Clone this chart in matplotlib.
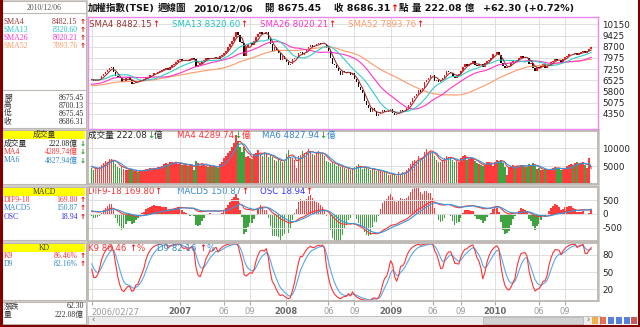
import numpy as np
import pandas as pd
import matplotlib
matplotlib.use("Agg")
import matplotlib.pyplot as plt
from matplotlib.patches import Rectangle

W, H = 640, 327
SANS = ["DejaVu Sans", "Noto Sans CJK TC"]
SERIF = ["Liberation Serif", "Noto Sans CJK TC"]

# ---- data (weekly TAIEX, weeks start on Monday) ----
start = "2006-02-27"

# 52 weeks before the first shown week, only used to warm up the averages
close_2005 = [6120, 6100, 6050, 6000, 6030, 6050, 5900, 5700, 5800, 5850,
              5900, 5950, 6000, 6050, 6100, 6150, 6200, 6230, 6300, 6350,
              6300, 6400, 6350, 6250, 6150, 6100, 6050, 6100, 6150, 6100,
              6050, 6000, 5900, 5800, 5650, 5800, 5950, 6050, 6150, 6200,
              6350, 6450, 6500, 6550, 6600, 6700, 6550, 6450, 6650, 6550,
              6600, 6580]

close = [6560, 6480, 6530, 6560, 6620, 6800, 6920, 7060, 7170, 7330,
         7400, 7050, 6780, 6730, 6650, 6390, 6500, 6700, 6720, 6550,
         6280, 6380, 6480, 6420, 6530, 6560, 6610, 6700, 6720, 6850,
         6880, 6980, 7000, 7060, 7140, 7180, 7260, 7300, 7200, 7390,
         7500, 7560, 7700, 7820, 7880, 7750, 7780, 7860, 7800, 7880,
         7960, 7900, 7400, 7500, 7600, 7780, 7860, 7950, 7920, 7980,
         7890, 8000, 7990, 7930, 8100, 8150, 8300, 8450, 8650, 8880,
         9100, 9300, 9650, 9450, 9000, 8950, 8100, 8700, 8900, 8950,
         8800, 9050, 9300, 9500, 9650, 9550, 9500, 9650, 9200, 8900,
         8450, 8650, 8500, 8300, 7850, 8100, 7900, 7700, 7500, 7600,
         7900, 7950, 8000, 8300, 8350, 8150, 8300, 8500, 8700, 8800,
         8700, 8750, 8850, 8950, 8900, 8950, 8900, 8600, 8450, 8000,
         7600, 7500, 7350, 7150, 6900, 7100, 7050, 7000, 7050, 6850,
         7000, 6600, 6400, 6100, 5900, 5700, 5200, 4900, 4700, 4450,
         4700, 4550, 4200, 4350, 4500, 4600, 4500, 4450, 4590, 4650,
         4430, 4250, 4320, 4500, 4620, 4500, 4560, 4700, 4900, 5150,
         5350, 5500, 5650, 5900, 5800, 6000, 6400, 6550, 6700, 6900,
         6850, 6500, 6550, 6400, 6550, 6700, 6900, 7100, 7050, 7000,
         6800, 6700, 6900, 6950, 7150, 7400, 7550, 7480, 7600, 7650,
         7750, 7500, 7450, 7600, 7550, 7400, 7650, 7800, 7850, 8000,
         8200, 8250, 8350, 8150, 7650, 7450, 7300, 7400, 7450, 7650,
         7800, 7750, 7850, 7950, 8100, 8000, 8000, 7950, 7600, 7650,
         7300, 7150, 7400, 7350, 7450, 7550, 7330, 7460, 7600, 7700,
         7780, 7900, 7830, 7820, 7700, 7920, 8050, 8100, 8230, 8240,
         8230, 8260, 8150, 8290, 8350, 8450, 8300, 8400, 8540, 8686.31]

vol_2005 = [5200, 4800, 5400, 5000, 4600]

# weekly turnover, 億
volume = [4500, 4000, 4200, 4300, 4600, 5200, 5800, 6300, 6000, 6900,
          7000, 6500, 5500, 4800, 4500, 5000, 4200, 4000, 3800, 3900,
          4100, 3700, 3500, 3400, 3800, 3600, 3900, 4200, 4100, 4500,
          4000, 4400, 4300, 4600, 4800, 5000, 5600, 5800, 5200, 6000,
          6200, 5900, 6100, 5500, 5800, 5400, 5200, 5600, 5000, 5500,
          5300, 3800, 6500, 5800, 5100, 5400, 5600, 5000, 4800, 5200,
          4600, 5000, 4700, 4400, 5500, 6000, 7200, 7800, 8500, 9200,
          10400, 11300, 13600, 12000, 10400, 9000, 10200, 7600, 7800, 7300,
          7000, 8200, 8600, 9400, 8200, 7800, 9000, 8500, 7600, 8000,
          7400, 6800, 6500, 7000, 6400, 6000, 6700, 8200, 9400, 7500,
          7200, 6800, 4500, 7800, 8000, 9300, 8500, 8800, 9700, 9000,
          8400, 8000, 8800, 9100, 8600, 8200, 7900, 6500, 6200, 5800,
          6000, 5500, 5000, 5200, 4800, 4600, 4400, 4300, 4200, 4000,
          4100, 4600, 4900, 5500, 4500, 4200, 4800, 4500, 4200, 3800,
          4400, 3900, 3600, 3800, 3500, 3400, 3200, 3000, 2600, 2500,
          3000, 2400, 2200, 3200, 2800, 3300, 3000, 3800, 4500, 5600,
          6300, 6800, 6500, 7800, 7000, 7500, 9000, 9800, 8800, 9200,
          8500, 7800, 6800, 6000, 6200, 6800, 7200, 7800, 7500, 7000,
          6800, 6000, 6500, 6200, 7200, 7800, 8000, 6800, 6900, 7200,
          7000, 6400, 5800, 5600, 5200, 5000, 5400, 6200, 6000, 5800,
          5000, 6200, 6600, 6400, 6800, 5800, 4800, 2500, 4600, 5000,
          5200, 4800, 5000, 4900, 5400, 5200, 4800, 4700, 5600, 5200,
          5800, 5000, 4200, 4400, 4000, 3900, 4100, 3800, 4000, 4300,
          4500, 4700, 4400, 4200, 3800, 4000, 4500, 4900, 5200, 5600,
          5100, 5800, 6000, 5500, 5800, 6008.6, 5300, 4436.88, 7200, 222.08]

price_ticks = [4350, 5075, 5800, 6525, 7250, 7975, 8700, 9425, 10150]
vol_ticks = [5000, 10000]
macd_ticks = [-500, 0, 500]
kd_ticks = [20, 50, 80]

sma_info = [("SMA4", "8482.15", "#993333"), ("SMA13", "8320.60", "#22c4c4"),
            ("SMA26", "8020.21", "#ff33cc"), ("SMA52", "7893.76", "#ff9966")]
ohlc_info = [("開", "8675.45"), ("高", "8700.13"), ("低", "8675.45"), ("收", "8686.31")]
vol_info = [("成交量", "222.08億", "#222222"), ("MA4", "4289.74億", "#ff3333"),
            ("MA6", "4827.94億", "#3388cc")]
macd_info = [("DIF9-18", "169.80", "#ff3333"), ("MACD5", "150.87", "#3388cc"),
             ("OSC", "18.94", "#3333ff")]
kd_info = [("K9", "86.46%", "#ff3333"), ("D9", "82.16%", "#3388cc")]

# ---- indicators ----
pre = len(close_2005)
allc = pd.Series(close_2005 + close, dtype=float)
opens = allc.shift(1).bfill().values[pre:]
c = allc.values[pre:]
n = len(c)
x = np.arange(n)
sma = {w: allc.rolling(w, min_periods=1).mean().values[pre:] for w in (4, 13, 26, 52)}

allv = pd.Series(vol_2005 + volume, dtype=float)
v = allv.values[len(vol_2005):]
vma4 = allv.rolling(4, min_periods=1).mean().values[len(vol_2005):]
vma6 = allv.rolling(6, min_periods=1).mean().values[len(vol_2005):]

dif_all = allc.ewm(span=9, adjust=False).mean() - allc.ewm(span=18, adjust=False).mean()
sig_all = dif_all.ewm(span=5, adjust=False).mean()
dif = dif_all.values[pre:]
sig = sig_all.values[pre:]
osc = dif - sig

lo9 = allc.rolling(9, min_periods=1).min()
hi9 = allc.rolling(9, min_periods=1).max()
rsv = ((allc - lo9) / (hi9 - lo9).replace(0, np.nan) * 100).fillna(50).values
kk, dd = [], []
k = d = 50.0
for r in rsv:
    k = k * 2 / 3 + r / 3
    d = d * 2 / 3 + k / 3
    kk.append(k)
    dd.append(d)
K = np.array(kk)[pre:]
D = np.array(dd)[pre:]

up = c >= opens
dates = pd.date_range(start, periods=n, freq="W-MON")
tick_x, tick_lab, tick_col, tick_w = [0], [dates[0].strftime("%Y/%m/%d")], ["#9a9a9a"], ["normal"]
for i in range(1, n):
    if dates[i].month != dates[i - 1].month:
        if dates[i].month == 1:
            tick_x.append(i); tick_lab.append(str(dates[i].year))
            tick_col.append("#6a6a6a"); tick_w.append("bold")
        elif dates[i].month in (6, 9) and dates[i].year > 2006:
            tick_x.append(i); tick_lab.append("%02d" % dates[i].month)
            tick_col.append("#9a9a9a"); tick_w.append("normal")

# ---- figure ----
fig = plt.figure(figsize=(W / 100, H / 100), dpi=100)
fig.patch.set_facecolor("white")


def box(x0, y0, x1, y1):
    return [x0 / W, 1 - y1 / H, (x1 - x0) / W, (y1 - y0) / H]


GRAY = "#d4d0cc"
EDGE = "#bdb8b3"
bg = fig.add_axes([0, 0, 1, 1])
bg.set_xlim(0, W); bg.set_ylim(H, 0); bg.axis("off")
bg.add_patch(Rectangle((0, 0), 88, H, fc=GRAY, ec="none"))
bg.add_patch(Rectangle((86, 129), 514, 173, fc=GRAY, ec="none"))
for (y0, y1, hdr) in [(1, 128, False), (130, 184, True), (187, 240, True), (243, 300, True), (302, 324, False)]:
    bg.add_patch(Rectangle((2, y0), 84, y1 - y0, fc="white", ec=EDGE, lw=0.8))
    if hdr:
        bg.add_patch(Rectangle((3, y0 + 1), 82, 7.5, fc="#ffff00", ec="none"))
bg.plot([2, 86], [13, 13], color=EDGE, lw=0.8)
bg.plot([2, 86], [90, 90], color=EDGE, lw=0.8)
# scrollbar
bg.add_patch(Rectangle((88, 316), 512, 9, fc="#ececec", ec="#b8b8b8", lw=0.6))
bg.add_patch(Rectangle((483, 317), 100, 7, fc="#d2d2d2", ec="#b0b0b0", lw=0.5))
for xi, col in zip([592, 600, 608, 616, 624, 631], ["#f0a020", "#e05030", "#3060d0", "#3060d0", "#3060d0", "#c03030"]):
    bg.add_patch(Rectangle((xi, 317), 6, 7, fc=col, ec="none", alpha=0.8))

XL, XR = 88, 598
xlim = ((XL - 91.7) / 2.006, (XR - 91.7) / 2.006)


def right_ticks(ax, ticks):
    ax.yaxis.tick_right()
    ax.set_yticks(ticks)
    ax.set_yticklabels([str(t) for t in ticks])
    ax.tick_params(axis="y", length=0, pad=3, labelsize=6.3, labelcolor="#222222")


def panel(y0, y1, ylim, ticks, spine):
    ax = fig.add_axes(box(XL, y0, XR, y1))
    ax.set_facecolor("white")
    ax.set_xlim(*xlim)
    ax.set_ylim(*ylim)
    right_ticks(ax, ticks)
    ax.set_xticks(tick_x)
    ax.tick_params(axis="x", length=0, labelbottom=False)
    ax.grid(True, color="#dedede", lw=0.7)
    ax.set_axisbelow(True)
    for s in ax.spines.values():
        s.set_color(spine)
        s.set_linewidth(1.0 if spine == "#ee88ee" else 1.3)
    return ax


ppx = 725 / 11.2
ax_p = panel(17, 129, (10150 - (129 - 24.3) * ppx, 10150 + (24.3 - 17) * ppx), price_ticks, "#ee88ee")
ax_v = panel(131, 184, (0, (184 - 131) / 18 * 5000), vol_ticks, EDGE)
ax_m = panel(187, 241, (-(241 - 214) / 13.8 * 500, (214 - 187) / 13.8 * 500), macd_ticks, EDGE)
ax_k = panel(243, 301, (50 - (301 - 272) / 17.3 * 30, 50 + (272 - 243) / 17.3 * 30), kd_ticks, EDGE)

# price
lo = np.minimum(opens, c)
hi = np.maximum(opens, c)
ax_p.bar(x, np.maximum(hi - lo, 20), bottom=lo, width=0.72,
         color=np.where(up, "#ff1010", "#000000"), zorder=2)
for w, col in zip((52, 26, 13, 4), ("#ff9966", "#ff33cc", "#33cccc", "#993333")):
    ax_p.plot(x, sma[w], color=col, lw=0.8, zorder=3)

# volume
ax_v.bar(x, v, width=0.7, color=np.where(up, "#ff3b3b", "#3fa33f"), zorder=2)
ax_v.plot(x, vma4, color="#ff3333", lw=0.8, zorder=3)
ax_v.plot(x, vma6, color="#3399dd", lw=0.8, zorder=3)

# macd: OSC bars on their own scale behind the DIF / MACD lines
ax_o = ax_m.twinx()
ax_o.patch.set_visible(True)
ax_o.set_facecolor("white")
ax_o.set_yticks([])
for s in ax_o.spines.values():
    s.set_visible(False)
sc = 1000 / np.abs(osc).max()
ym = ax_m.get_ylim()
ax_o.set_ylim(ym[0] / sc, ym[1] / sc)
ax_o.set_xlim(*xlim)
ax_o.bar(x, osc, width=0.7, color=np.where(osc >= 0, "#ff3b3b", "#3fa33f"))
ax_m.set_zorder(ax_o.get_zorder() + 1)
ax_m.patch.set_visible(False)
right_ticks(ax_m, macd_ticks)
ax_m.plot(x, dif, color="#ff3333", lw=0.8)
ax_m.plot(x, sig, color="#3399dd", lw=0.8)

# kd
ax_k.plot(x, D, color="#55aaee", lw=0.8)
ax_k.plot(x, K, color="#ff3333", lw=0.8)
ax_k.set_xticklabels(tick_lab)
ax_k.tick_params(axis="x", length=3, color="#aaaaaa", pad=1.5, labelbottom=True, labelsize=6.0)
for lbl, col, wt in zip(ax_k.get_xticklabels(), tick_col, tick_w):
    lbl.set_color(col)
    lbl.set_fontweight(wt)
ax_k.get_xticklabels()[0].set_horizontalalignment("left")

# ---- texts ----
fg = fig.add_axes([0, 0, 1, 1])
fg.set_xlim(0, W); fg.set_ylim(H, 0); fg.axis("off")
rend = fig.canvas.get_renderer()
RED = "#ee0000"
GREEN = "#119911"


def seq(x0, y, parts, size=6.2, family=SANS, weight="normal"):
    for s, col in parts:
        t = fg.text(x0, y, s, color=col, fontsize=size, family=family, weight=weight, ha="left", va="center")
        x0 += t.get_window_extent(renderer=rend).width
    return x0


# title
tb = dict(size=6.8, weight="bold")
seq(88, 8.5, [("加權指數(TSE)", "#111111")], **tb)
seq(158, 8.5, [("週線圖", "#111111")], **tb)
seq(193, 8.5, [("2010/12/06", "#111111")], **tb)
seq(265, 8.5, [("開 8675.45", "#111111")], **tb)
seq(334, 8.5, [("收 8686.31", "#111111"), ("↑", RED), ("點", "#111111")], **tb)
seq(412, 8.5, [("量 222.08 億", "#111111")], **tb)
seq(483, 8.5, [("+62.30 (+0.72%)", "#111111")], **tb)

# panel legends
for x0, (name, val, col) in zip([89, 172, 260, 348], sma_info):
    seq(x0, 24.5, [(name + " " + val, col), ("↑", RED)])
seq(88, 135.5, [("成交量 222.08", "#222222"), ("↓", GREEN), ("億", "#222222")])
seq(177, 135.5, [("MA4 4289.74", "#ff3333"), ("↓", GREEN), ("億", "#ff3333")])
seq(262, 135.5, [("MA6 4827.94", "#3388cc"), ("↓", GREEN), ("億", "#3388cc")])
for x0, (name, val, col) in zip([88, 177, 260], macd_info):
    seq(x0, 191.5, [(name + " " + val, col), ("↑", RED)])
seq(88, 248.5, [("K9 86.46 ", "#ff3333"), ("↑", RED), ("%", "#ff3333")])
seq(157, 248.5, [("D9 82.16 ", "#3388cc"), ("↑", RED), ("%", "#3388cc")])

# left info column
LS = dict(fontsize=5.6, family=SERIF, va="center")
AR = dict(fontsize=5.2, family=SANS, weight="bold", va="center", ha="left")
fg.text(44, 7.5, "2010/12/06", ha="center", color="#555555", **LS)
for y, (name, val, col) in zip([22, 30, 38, 46.5], sma_info):
    fg.text(4, y, name, ha="left", color=col, **LS)
    fg.text(77.5, y, val, ha="right", color=col, **LS)
    fg.text(79.5, y, "↑", color=RED, **AR)
for y, (name, val) in zip([97.5, 105.5, 113.5, 122], ohlc_info):
    fg.text(4, y, name, ha="left", color="#333333", **LS)
    fg.text(84, y, val, ha="right", color="#333333", **LS)
for yh, title, rows, ys, arrow, acol in [
        (134.7, "成交量", vol_info, [143.5, 151.7, 160.5], "↓", GREEN),
        (191.7, "MACD", macd_info, [200, 208.3, 216.7], "↑", RED),
        (247.7, "KD", kd_info, [256, 264], "↑", RED)]:
    fg.text(44, yh, title, ha="center", color="#333333", **LS)
    for y, (name, val, col) in zip(ys, rows):
        fg.text(4, y, name, ha="left", color=col, **LS)
        fg.text(77.5, y, val, ha="right", color=col, **LS)
        fg.text(79.5, y, arrow, color=acol, **AR)
fg.text(4, 306.5, "漲跌", ha="left", color="#333333", **LS)
fg.text(84, 306.5, "62.30", ha="right", color="#333333", **LS)
fg.text(4, 314.5, "量", ha="left", color="#333333", **LS)
fg.text(84, 314.5, "222.08億", ha="right", color="#333333", **LS)
fg.text(91, 320.5, "‹", ha="left", color="#666666", fontsize=6, va="center")
fg.text(586, 320.5, "›", ha="left", color="#666666", fontsize=6, va="center")

# outer frame
fg.plot([0.7, 0.7, W - 1.5, W - 1.5], [0, H - 1, H - 1, 0], color="#800000", lw=2.2)

fig.savefig("out.png", dpi=100, facecolor="white")
